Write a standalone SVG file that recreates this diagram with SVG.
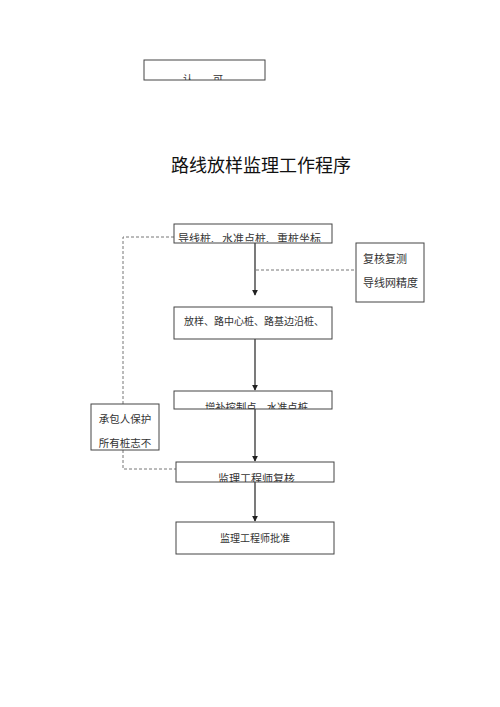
<svg xmlns="http://www.w3.org/2000/svg" width="500" height="707" viewBox="0 0 500 707">
<style>
.box{fill:#fff;stroke:#444;stroke-width:1}
.t{font-family:"Noto Sans CJK SC","Noto Sans",sans-serif;fill:#333}
.dash{fill:none;stroke:#777;stroke-width:1;stroke-dasharray:3,2}
.arr{fill:none;stroke:#222;stroke-width:1.2;marker-end:url(#ah)}
</style>
<defs>
<marker id="ah" viewBox="0 0 8 8" refX="7" refY="4" markerWidth="6" markerHeight="6" orient="auto" markerUnits="userSpaceOnUse">
<path d="M0,0 L8,4 L0,8 z" fill="#222"/>
</marker>
<clipPath id="c0"><rect x="144" y="60" width="121" height="20"/></clipPath>
<clipPath id="c1"><rect x="174" y="224" width="158" height="18"/></clipPath>
<clipPath id="c3"><rect x="174" y="391" width="158" height="18"/></clipPath>
<clipPath id="c4"><rect x="176" y="462" width="158" height="20"/></clipPath>
</defs>
<rect width="500" height="707" fill="#fff"/>

<g id="approve">
<rect class="box" x="144" y="60" width="121" height="20"/>
<g clip-path="url(#c0)">
<text class="t" x="183" y="82.5" font-size="10">认</text>
<text class="t" x="213" y="82.5" font-size="10">可</text>
</g>
</g>

<text id="title" class="t" x="261" y="172" font-size="18" text-anchor="middle" style="fill:#111">路线放样监理工作程序</text>

<g id="connectors">
<line class="arr" x1="255" y1="243" x2="255" y2="295"/>
<line class="arr" x1="255" y1="339" x2="255" y2="390"/>
<line class="arr" x1="255" y1="409" x2="255" y2="461"/>
<line class="arr" x1="255" y1="482" x2="255" y2="521"/>
<polyline class="dash" points="174,237 123,237 123,404"/>
<polyline class="dash" points="123,450 123,469 176,469"/>
<line class="dash" x1="256" y1="270" x2="356" y2="270"/>
</g>

<g id="n1">
<rect class="box" x="174" y="224" width="158" height="19"/>
<g clip-path="url(#c1)">
<text class="t" x="178" y="243" font-size="11">导线桩、水准点桩、重桩坐标</text>
</g>
</g>

<g id="n_check">
<rect class="box" x="356" y="243" width="68" height="59"/>
<text class="t" x="363" y="263" font-size="11">复核复测</text>
<text class="t" x="363" y="287" font-size="11">导线网精度</text>
</g>

<g id="n2">
<rect class="box" x="174" y="307" width="158" height="32"/>
<text class="t" x="184" y="325" font-size="10">放样、路中心桩、路基边沿桩、</text>
</g>

<g id="n3">
<rect class="box" x="174" y="391" width="158" height="18"/>
<g clip-path="url(#c3)">
<text class="t" x="205" y="411" font-size="10.3">增补控制点、水准点桩</text>
</g>
</g>

<g id="n_protect">
<rect class="box" x="91" y="404" width="68" height="46"/>
<text class="t" x="125" y="423" font-size="10.5" text-anchor="middle">承包人保护</text>
<text class="t" x="125" y="447" font-size="10.5" text-anchor="middle">所有桩志不</text>
</g>

<g id="n4">
<rect class="box" x="176" y="462" width="158" height="20"/>
<g clip-path="url(#c4)">
<text class="t" x="218" y="483" font-size="11">监理工程师复核</text>
</g>
</g>

<g id="n5">
<rect class="box" x="176" y="522" width="158" height="32"/>
<text class="t" x="255" y="542" font-size="10" text-anchor="middle">监理工程师批准</text>
</g>
</svg>
